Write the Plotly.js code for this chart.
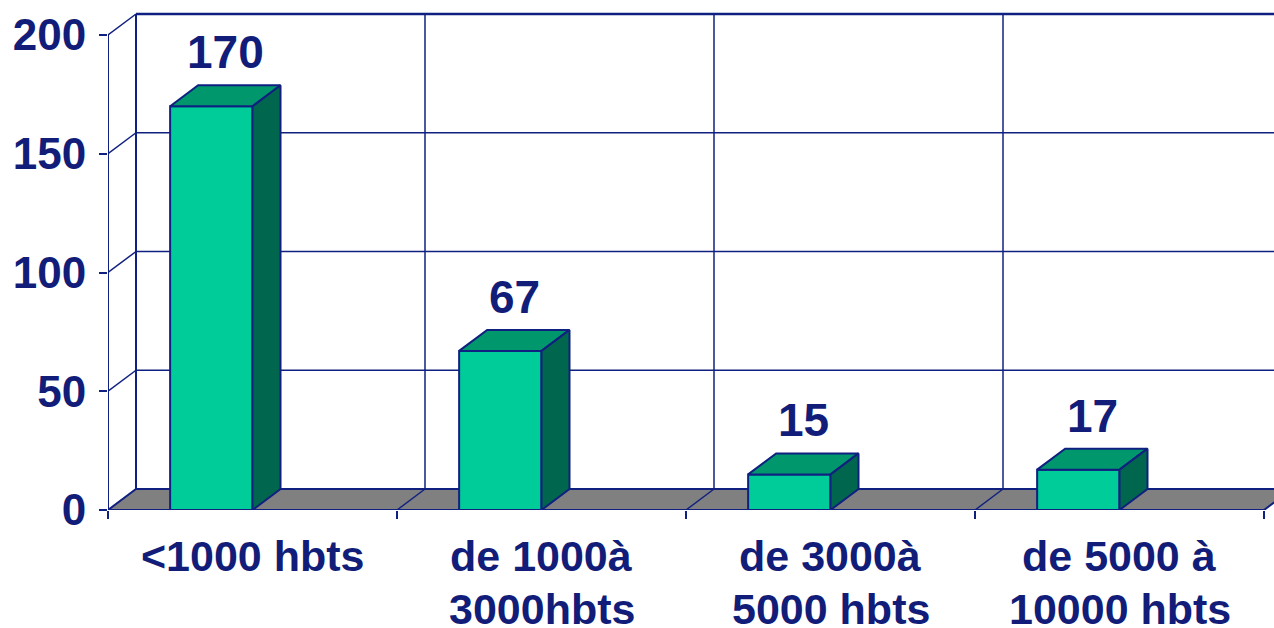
<!DOCTYPE html>
<html>
<head>
<meta charset="utf-8">
<script src="https://cdn.plot.ly/plotly-3.0.1.min.js"></script>
<style>html,body{margin:0;padding:0;background:#fff;}#chart{width:1274px;height:628px;}</style>
</head>
<body>
<div id="chart"></div>
<script>
// ---- data ----
const categories = ['<1000 hbts', 'de 1000à<br>3000hbts', 'de 3000à<br>5000 hbts', 'de 5000 à<br>10000 hbts'];
const values = [170, 67, 15, 17];
const yTickVals = [0, 50, 100, 150, 200];
const yTickText = ['0', '50', '100', '150', '200'];

// ---- style / geometry constants ----
const NAVY = '#102080';
const TEXT = '#111d78';
const FRONT = '#00cc99';
const TOP = '#00976d';
const SIDE = '#00664d';
const FLOOR = '#808080';
const FONT = 'Liberation Sans, Arial, sans-serif';
const PX_PER_CAT = 289, PX_PER_UNIT = 2.375;
const DX = 28 / PX_PER_CAT;        // depth offset in category units
const DY = 21 / PX_PER_UNIT;       // depth offset in value units
const BAR_L = 0.215, BAR_R = 0.5;  // front face position inside a category
const N = categories.length;
const YMAX = yTickVals[yTickVals.length - 1];
const CAT_FONT = 43, LINE1_SHIFT = -46, LINE_GAP = 53;

const traces = [];
// front faces as real bars
traces.push({
  type: 'bar',
  x: values.map((v, i) => i + (BAR_L + BAR_R) / 2),
  y: values,
  width: BAR_R - BAR_L,
  marker: {color: FRONT, line: {color: NAVY, width: 2}},
  hoverinfo: 'skip'
});
// top and side faces
values.forEach((v, i) => {
  const l = i + BAR_L, r = i + BAR_R;
  traces.push({
    type: 'scatter', mode: 'lines', fill: 'toself', fillcolor: TOP,
    x: [l, r, r + DX, l + DX, l], y: [v, v, v + DY, v + DY, v],
    line: {color: NAVY, width: 2}, hoverinfo: 'skip'
  });
  traces.push({
    type: 'scatter', mode: 'lines', fill: 'toself', fillcolor: SIDE,
    x: [r, r + DX, r + DX, r, r], y: [0, DY, v + DY, v, 0],
    line: {color: NAVY, width: 2}, hoverinfo: 'skip'
  });
});

const shapes = [];
// back wall horizontal gridlines + side wall diagonals
yTickVals.forEach(v => {
  if (v === 0) return;
  shapes.push({type: 'line', xref: 'x', yref: 'y', layer: 'below',
    x0: DX, x1: N + DX, y0: v + DY, y1: v + DY,
    line: {color: NAVY, width: v === YMAX ? 2.5 : 1.5}});
  shapes.push({type: 'line', xref: 'x', yref: 'y', layer: 'below',
    x0: 0, x1: DX, y0: v, y1: v + DY, line: {color: NAVY, width: 1.5}});
});
// back wall vertical gridlines
for (let i = 0; i <= N; i++) {
  shapes.push({type: 'line', xref: 'x', yref: 'y', layer: 'below',
    x0: i + DX, x1: i + DX, y0: DY, y1: YMAX + DY, line: {color: NAVY, width: i === 0 ? 2 : 1.5}});
}
// front vertical axis line
shapes.push({type: 'line', xref: 'x', yref: 'y', layer: 'below',
  x0: 0, x1: 0, y0: 0, y1: YMAX, line: {color: NAVY, width: 2}});
// floor
shapes.push({type: 'path', xref: 'x', yref: 'y', layer: 'below',
  path: `M0,0 L${N},0 L${N + DX},${DY} L${DX},${DY} Z`,
  fillcolor: FLOOR, line: {color: NAVY, width: 2}});
for (let i = 1; i < N; i++) {
  shapes.push({type: 'line', xref: 'x', yref: 'y', layer: 'below',
    x0: i, x1: i + DX, y0: 0, y1: DY, line: {color: NAVY, width: 1.5}});
}

// value labels
const annotations = values.map((v, i) => ({
  x: i + (BAR_L + BAR_R) / 2 + DX / 2, y: v, xref: 'x', yref: 'y',
  text: String(v), showarrow: false, yanchor: 'middle', yshift: 54,
  font: {family: FONT, size: 46, color: TEXT, weight: 'bold'}
}));
// category labels (one annotation per line for exact line spacing)
categories.forEach((c, i) => {
  c.split('<br>').forEach((line, k) => {
    annotations.push({
      x: i + 0.5, y: 0, xref: 'x', yref: 'paper',
      text: line, showarrow: false, xanchor: 'center', yanchor: 'middle',
      yshift: LINE1_SHIFT - k * LINE_GAP,
      font: {family: FONT, size: CAT_FONT, color: TEXT, weight: 'bold'}
    });
  });
});

const layout = {
  width: 1274, height: 628,
  margin: {l: 108, r: 0, t: 8, b: 118},
  paper_bgcolor: '#ffffff', plot_bgcolor: 'rgba(0,0,0,0)',
  showlegend: false, hovermode: false,
  font: {family: FONT, color: TEXT},
  xaxis: {
    range: [0, 1166 / PX_PER_CAT],
    tickmode: 'array',
    tickvals: Array.from({length: N + 1}, (_, i) => i),
    showticklabels: false,
    ticks: 'outside', ticklen: 8, tickwidth: 2, tickcolor: NAVY,
    showgrid: false, zeroline: false, showline: false
  },
  yaxis: {
    range: [0, 502 / PX_PER_UNIT],
    tickmode: 'array', tickvals: yTickVals, ticktext: yTickText,
    ticks: 'outside', ticklen: 8, tickwidth: 2, tickcolor: NAVY,
    showgrid: false, zeroline: false, showline: false,
    ticklabelstandoff: 4,
    tickfont: {size: 44, color: TEXT, weight: 'bold'}
  },
  shapes: shapes,
  annotations: annotations,
  bargap: 0
};

Plotly.newPlot('chart', traces, layout, {displayModeBar: false, staticPlot: true});
</script>
</body>
</html>
